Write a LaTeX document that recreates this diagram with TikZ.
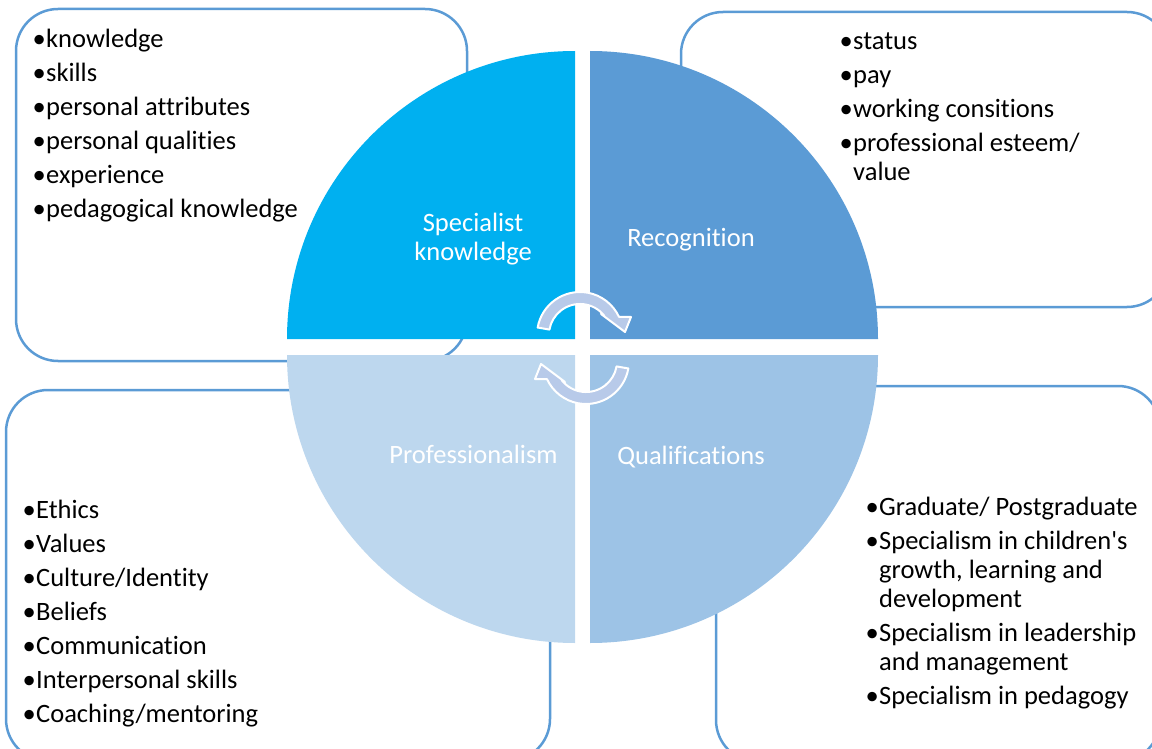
\documentclass[tikz,border=0pt]{standalone}
\usepackage{fontspec}
\setmainfont{Carlito}[Ligatures={NoCommon}]
\definecolor{skblue}{RGB}{0,176,240}
\definecolor{recblue}{RGB}{91,155,213}
\definecolor{profblue}{RGB}{189,215,238}
\definecolor{qualblue}{RGB}{157,195,230}
\definecolor{boxblue}{RGB}{91,155,213}
\definecolor{arrowfill}{RGB}{184,202,233}
\newlength\bulw
\setlength\bulw{13.5pt}
\newcommand\myitem[1]{\makebox[\bulw][l]{•}#1}
\newcommand\mycont[1]{\hspace*{\bulw}#1}
\newcommand\firstrule{\rule{0pt}{22pt}}
\tikzset{
  box/.style={draw=boxblue, line width=2.5pt, rounded corners=42pt, fill=white},
  lst/.style={anchor=north west, inner sep=0pt, align=left, font=\fontsize{26.5}{29}\selectfont, text=black},
  lbl/.style={inner sep=0pt, align=center, font=\fontsize{26.5}{28.5}\selectfont, text=white},
  carrow/.style={fill=arrowfill, draw=white, line width=2pt, line join=round}
}
\begin{document}
\begin{tikzpicture}[x=1pt,y=-1pt]
\useasboundingbox (0,0) rectangle (1152,749);
\clip (0,0) rectangle (1152,749);
% outer boxes
\draw[box] (16,9) rectangle (467,361);
\draw[box] (681,12) rectangle (1169,307);
\draw[box] (6,390) rectangle (550,761);
\draw[box] (716,386) rectangle (1160,762);
% quadrants
\fill[skblue] (575,339) -- (287,339) arc[start angle=180,end angle=270,radius=288] -- cycle;
\fill[recblue] (590,339) -- (590,51) arc[start angle=270,end angle=360,radius=288] -- cycle;
\fill[qualblue] (590,355) -- (878,355) arc[start angle=0,end angle=90,radius=288] -- cycle;
\fill[profblue] (575,355) -- (575,643) arc[start angle=90,end angle=180,radius=288] -- cycle;
% circular arrows
\path[carrow] (537.65,327.53) arc[start angle=190,end angle=335,radius=43] -- (631,317) -- (625,332) -- (601,314) -- (604.4,315.9) arc[start angle=322,end angle=190,radius=31] -- cycle;
\begin{scope}[rotate around={180:(583,348)}]
\path[carrow] (537.65,327.53) arc[start angle=190,end angle=335,radius=43] -- (631,317) -- (625,332) -- (601,314) -- (604.4,315.9) arc[start angle=322,end angle=190,radius=31] -- cycle;
\end{scope}
% quadrant labels
\node[lbl, anchor=north] (lsk) at (473,209.7) {\firstrule Specialist\\knowledge};
\node[lbl, anchor=base] (lrec) at (691,246) {Recognition};
\node[lbl, anchor=base] (lprof) at (473.5,463) {Professionalism};
\node[lbl, anchor=base] (lqual) at (691,464) {Qualifications};
% lists
\node[lst] (t1) at (32.5,25.5) {\firstrule\myitem{knowledge}\\[5pt]\myitem{skills}\\[5pt]\myitem{personal attributes}\\[5pt]\myitem{personal qualities}\\[5pt]\myitem{experience}\\[5pt]\myitem{pedagogical knowledge}};
\node[lst] (t2) at (839.5,27.5) {\firstrule\myitem{status}\\[5pt]\myitem{pay}\\[5pt]\myitem{working consitions}\\[5pt]\myitem{professional esteem/}\\\mycont{value}};
\node[lst] (t3) at (22.5,496.5) {\firstrule\myitem{Ethics}\\[5pt]\myitem{Values}\\[5pt]\myitem{Culture/Identity}\\[5pt]\myitem{Beliefs}\\[5pt]\myitem{Communication}\\[5pt]\myitem{Interpersonal skills}\\[5pt]\myitem{Coaching/mentoring}};
\node[lst] (t4) at (865.5,493) {\firstrule\myitem{Graduate/ Postgraduate}\\[5pt]\myitem{Specialism in children\textquotesingle s}\\\mycont{growth, learning and}\\\mycont{development}\\[5pt]\myitem{Specialism in leadership}\\\mycont{and management}\\[5pt]\myitem{Specialism in pedagogy}};
\end{tikzpicture}
\end{document}
